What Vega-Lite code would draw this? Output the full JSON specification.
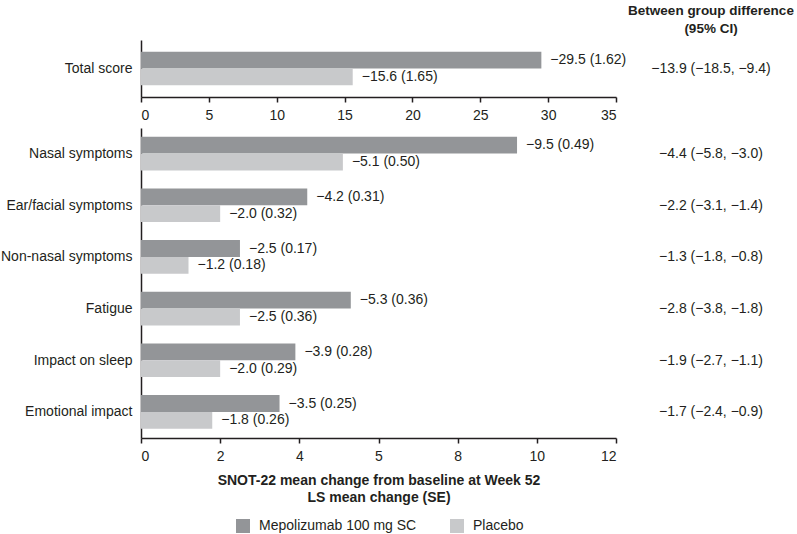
{
  "$schema": "https://vega.github.io/schema/vega-lite/v6.json",
  "padding": {"top": 3, "left": 0, "right": 0, "bottom": 0},
  "background": "white",
  "config": {
    "font": "Liberation Sans",
    "view": {"stroke": null},
    "axis": {
      "labelFont": "Liberation Sans",
      "labelFontSize": 14,
      "labelColor": "#231f20",
      "domainColor": "#231f20",
      "domainWidth": 1.5,
      "tickColor": "#231f20",
      "tickWidth": 1.5,
      "grid": false,
      "titleFont": "Liberation Sans",
      "titleFontSize": 14,
      "titleColor": "#231f20",
      "titleFontWeight": "bold"
    },
    "text": {"font": "Liberation Sans", "fontSize": 14, "fill": "#231f20"},
    "legend": {
      "orient": "none",
      "legendX": 95,
      "legendY": 479,
      "direction": "horizontal",
      "title": null,
      "symbolType": "square",
      "symbolSize": 196,
      "symbolStrokeWidth": 0,
      "symbolOpacity": 1,
      "labelFont": "Liberation Sans",
      "labelFontSize": 14,
      "labelColor": "#231f20",
      "labelOffset": 9,
      "columnPadding": 33
    }
  },
  "datasets": {
    "top": [
      {"domain": "Total score", "group": "Mepolizumab 100 mg SC", "value": 29.5, "label": "−29.5 (1.62)"},
      {"domain": "Total score", "group": "Placebo", "value": 15.6, "label": "−15.6 (1.65)"}
    ],
    "bottom": [
      {"domain": "Nasal symptoms", "group": "Mepolizumab 100 mg SC", "value": 9.5, "label": "−9.5 (0.49)"},
      {"domain": "Nasal symptoms", "group": "Placebo", "value": 5.1, "label": "−5.1 (0.50)"},
      {"domain": "Ear/facial symptoms", "group": "Mepolizumab 100 mg SC", "value": 4.2, "label": "−4.2 (0.31)"},
      {"domain": "Ear/facial symptoms", "group": "Placebo", "value": 2.0, "label": "−2.0 (0.32)"},
      {"domain": "Non-nasal symptoms", "group": "Mepolizumab 100 mg SC", "value": 2.5, "label": "−2.5 (0.17)"},
      {"domain": "Non-nasal symptoms", "group": "Placebo", "value": 1.2, "label": "−1.2 (0.18)"},
      {"domain": "Fatigue", "group": "Mepolizumab 100 mg SC", "value": 5.3, "label": "−5.3 (0.36)"},
      {"domain": "Fatigue", "group": "Placebo", "value": 2.5, "label": "−2.5 (0.36)"},
      {"domain": "Impact on sleep", "group": "Mepolizumab 100 mg SC", "value": 3.9, "label": "−3.9 (0.28)"},
      {"domain": "Impact on sleep", "group": "Placebo", "value": 2.0, "label": "−2.0 (0.29)"},
      {"domain": "Emotional impact", "group": "Mepolizumab 100 mg SC", "value": 3.5, "label": "−3.5 (0.25)"},
      {"domain": "Emotional impact", "group": "Placebo", "value": 1.8, "label": "−1.8 (0.26)"}
    ],
    "topdiff": [
      {"domain": "Total score", "diff": "−13.9 (−18.5, −9.4)"}
    ],
    "bottomdiff": [
      {"domain": "Nasal symptoms", "diff": "−4.4 (−5.8, −3.0)"},
      {"domain": "Ear/facial symptoms", "diff": "−2.2 (−3.1, −1.4)"},
      {"domain": "Non-nasal symptoms", "diff": "−1.3 (−1.8, −0.8)"},
      {"domain": "Fatigue", "diff": "−2.8 (−3.8, −1.8)"},
      {"domain": "Impact on sleep", "diff": "−1.9 (−2.7, −1.1)"},
      {"domain": "Emotional impact", "diff": "−1.7 (−2.4, −0.9)"}
    ]
  },
  "columns": 2,
  "spacing": {"row": 6, "column": 1},
  "concat": [
    {
      "width": 475,
      "height": 57,
      "data": {"name": "top"},
      "encoding": {
        "y": {"field": "domain", "type": "nominal", "sort": null,
              "scale": {"paddingInner": 0.41, "paddingOuter": 0.205},
              "axis": {"title": null, "ticks": false, "labelPadding": 9}},
        "yOffset": {"field": "group", "type": "nominal", "sort": ["Mepolizumab 100 mg SC", "Placebo"]},
        "x": {"field": "value", "type": "quantitative",
              "scale": {"domain": [0, 35], "nice": false},
              "axis": {"title": null, "values": [0, 5, 10, 15, 20, 25, 30, 35], "tickSize": 5, "labelPadding": 6}}
      },
      "layer": [
        {"mark": {"type": "bar"},
         "encoding": {"color": {"field": "group", "type": "nominal",
           "scale": {"domain": ["Mepolizumab 100 mg SC", "Placebo"], "range": ["#939598", "#c8c9cb"]}}}},
        {"mark": {"type": "text", "align": "left", "baseline": "middle", "dx": 9},
         "encoding": {"text": {"field": "label"}}}
      ]
    },
    {
      "width": 150,
      "height": 57,
      "data": {"name": "topdiff"},
      "title": {"text": ["Between group difference", "(95% CI)"], "font": "Liberation Sans", "fontSize": 13.5, "fontWeight": "bold", "color": "#231f20", "anchor": "middle", "lineHeight": 18, "offset": 5},
      "mark": {"type": "text", "baseline": "middle"},
      "encoding": {
        "y": {"field": "domain", "type": "nominal", "sort": null,
              "scale": {"paddingInner": 0.41, "paddingOuter": 0.205}, "axis": null},
        "text": {"field": "diff"}
      }
    },
    {
      "width": 475,
      "height": 310,
      "data": {"name": "bottom"},
      "encoding": {
        "y": {"field": "domain", "type": "nominal", "sort": null,
              "scale": {"paddingInner": 0.34, "paddingOuter": 0.17},
              "axis": {"title": null, "ticks": false, "labelPadding": 9}},
        "yOffset": {"field": "group", "type": "nominal", "sort": ["Mepolizumab 100 mg SC", "Placebo"]},
        "x": {"field": "value", "type": "quantitative",
              "scale": {"domain": [0, 12], "nice": false},
              "axis": {"title": ["SNOT-22 mean change from baseline at Week 52", "LS mean change (SE)"],
                       "titleLineHeight": 17, "titlePadding": 10,
                       "values": [0, 2, 4, 6, 8, 10, 12],
                       "labelExpr": "datum.value == 6 ? '5' : datum.label",
                       "tickSize": 5, "labelPadding": 6}}
      },
      "layer": [
        {"mark": {"type": "bar"},
         "encoding": {"color": {"field": "group", "type": "nominal",
           "scale": {"domain": ["Mepolizumab 100 mg SC", "Placebo"], "range": ["#939598", "#c8c9cb"]}}}},
        {"mark": {"type": "text", "align": "left", "baseline": "middle", "dx": 9},
         "encoding": {"text": {"field": "label"}}}
      ]
    },
    {
      "width": 150,
      "height": 310,
      "data": {"name": "bottomdiff"},
      "mark": {"type": "text", "baseline": "middle"},
      "encoding": {
        "y": {"field": "domain", "type": "nominal", "sort": null,
              "scale": {"paddingInner": 0.34, "paddingOuter": 0.17}, "axis": null},
        "text": {"field": "diff"}
      }
    }
  ],
  "resolve": {"scale": {"color": "shared"}}
}
